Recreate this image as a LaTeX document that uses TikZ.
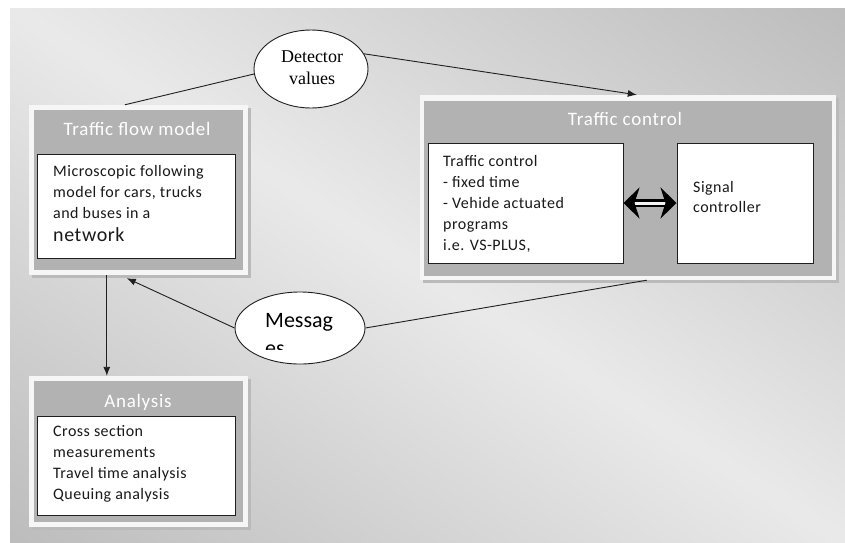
\documentclass[tikz,border=0pt]{standalone}
\usepackage{fontspec}
\setmainfont{Carlito}
\newfontfamily\spacedsans[LetterSpace=3]{Carlito}
\newfontfamily\titlesans[LetterSpace=4]{Carlito}
\newfontfamily\labelserif{Liberation Serif}
\usetikzlibrary{arrows.meta,shapes.geometric,calc}

\definecolor{bgdark}{gray}{0.74}
\definecolor{bglight}{gray}{0.915}
\definecolor{panelgray}{gray}{0.70}
\definecolor{framewhite}{gray}{0.965}
\definecolor{inkline}{gray}{0.12}

\tikzset{
  frameshadow/.style={fill=black!27, draw=none, rectangle, inner sep=0pt},
  framebox/.style={fill=framewhite, draw=none, rectangle, inner sep=0pt},
  panelbox/.style={fill=panelgray, draw=none, rectangle, inner sep=0pt},
  whitebox/.style={fill=white, draw=inkline, line width=1pt, rectangle, inner sep=0pt},
  paneltitle/.style={text=white, font=\titlesans\fontsize{19}{19}\selectfont, inner sep=0pt},
  bodytext/.style={font=\spacedsans\fontsize{16}{21}\selectfont, align=left, anchor=north west, inner sep=0pt, text=black!90},
  bubble/.style={ellipse, draw=inkline, line width=0.9pt, fill=white, inner sep=0pt},
  link/.style={draw=inkline, line width=0.9pt},
  arrowlink/.style={link, -{Latex[length=9pt,width=7pt]}},
}

\begin{document}
\begin{tikzpicture}[x=1pt,y=-1pt]
\useasboundingbox (0,0) rectangle (845,542);
\fill[white] (0,0) rectangle (845,542);
% backdrop: light along the falling diagonal, darker toward the other two corners
\begin{scope}
  \clip (10,8) rectangle (845,542);
  \begin{scope}[shift={(427.5,275)}, rotate=-32.6]
    \foreach \i in {-46,...,45} {
      \pgfmathsetmacro\mixpct{max(0,100*(1-abs(\i+0.5)/45))}
      \fill[bglight!\mixpct!bgdark] (-620,\i*10) rectangle (620,\i*10+10.8);
    }
  \end{scope}
\end{scope}

% ---------- Traffic flow model ----------
\node[frameshadow, minimum width=219pt, minimum height=170pt] at (141,193) {};
\node[framebox, minimum width=219pt, minimum height=170pt] (flowframe) at (138.5,190) {};
\node[panelbox, minimum width=209pt, minimum height=160pt] (flowpanel) at (138.5,190) {};
\node[paneltitle] (flowtitle) at (137,129) {Traffic flow model};
\node[whitebox, minimum width=198pt, minimum height=104pt] (flowbox) at (136,206) {};
\node[bodytext] (flowtext) at (53,165.5) {Microscopic following\\model for cars, trucks\\and buses in a\\[1.5pt]{\fontsize{20}{22}\selectfont network}};

% ---------- Analysis ----------
\node[frameshadow, minimum width=219pt, minimum height=151pt] at (141,454.5) {};
\node[framebox, minimum width=219pt, minimum height=151pt] (anaframe) at (138.5,451.5) {};
\node[panelbox, minimum width=209pt, minimum height=141pt] (anapanel) at (138.5,451.5) {};
\node[paneltitle] (anatitle) at (138,402) {Analysis};
\node[whitebox, minimum width=198pt, minimum height=99pt] (anabox) at (136,465.5) {};
\node[bodytext] (anatext) at (53,425.5) {Cross section\\measurements\\Travel time analysis\\Queuing analysis};

% ---------- Traffic control ----------
\node[frameshadow, minimum width=416pt, minimum height=185pt] at (630.5,190.5) {};
\node[framebox, minimum width=416pt, minimum height=185pt] (tcframe) at (628,187.5) {};
\node[panelbox, minimum width=408pt, minimum height=175pt] (tcpanel) at (628,188.5) {};
\node[paneltitle] (tctitle) at (625,119) {Traffic control};
\node[whitebox, minimum width=195pt, minimum height=120pt] (tcleft) at (525.5,203) {};
\node[whitebox, minimum width=136pt, minimum height=120pt] (tcright) at (745,203) {};
\node[bodytext] (tclefttext) at (443,155.5) {Traffic control\\- fixed time\\- Vehide actuated\\programs\\i.e. VS-PLUS,};
\node[bodytext, font=\spacedsans\fontsize{16}{20}\selectfont] (tcrighttext) at (693,181.5) {Signal\\controller};

% two-way link between the control program and the signal controller
\draw[line width=2.8pt, double=white!90!gray, double distance=3pt,
      {Stealth[length=16pt,width=31pt,inset=5pt]}-{Stealth[length=16pt,width=31pt,inset=5pt]}]
  (tcleft.east) -- (tcright.west);

% ---------- bubbles ----------
\node[bubble, minimum width=114pt, minimum height=78pt] (det) at (311,69) {};
\node[font=\labelserif\fontsize{18}{21.5}\selectfont, align=center, inner sep=0pt] (dettext) at (312,67.5) {Detector\\values};

\node[bubble, minimum width=130pt, minimum height=72pt] (msg) at (300,328) {};
\node[anchor=base west, font=\fontsize{22}{22}\selectfont, inner sep=0pt] (msgtext) at (265,327) {Messag};
\begin{scope}
  \clip (240,338) rectangle (360,349);
  \node[anchor=base west, font=\fontsize{22}{22}\selectfont, inner sep=0pt] (msgtail) at (265,355) {es};
\end{scope}

% ---------- connectors ----------
\coordinate (flowtop)  at ($(flowframe.north west)+(96,0)$);
\coordinate (flowbot)  at ($(flowframe.south west)+(78,0)$);
\coordinate (flowin)   at ($(flowframe.south west)+(98,3)$);
\coordinate (anatop)   at ($(anaframe.north west)+(78,0)$);
\coordinate (tctop)    at ($(tcframe.north west)+(217,0)$);
\coordinate (tcbot)    at ($(tcframe.south west)+(227,0)$);

\draw[link] (det.185) -- (flowtop);
\draw[arrowlink] (det.16) -- (tctop);
\draw[arrowlink] (flowbot) -- (anatop);
\draw[arrowlink] (msg.west) -- (flowin);
\draw[link] (msg.east) -- (tcbot);
\end{tikzpicture}
\end{document}
